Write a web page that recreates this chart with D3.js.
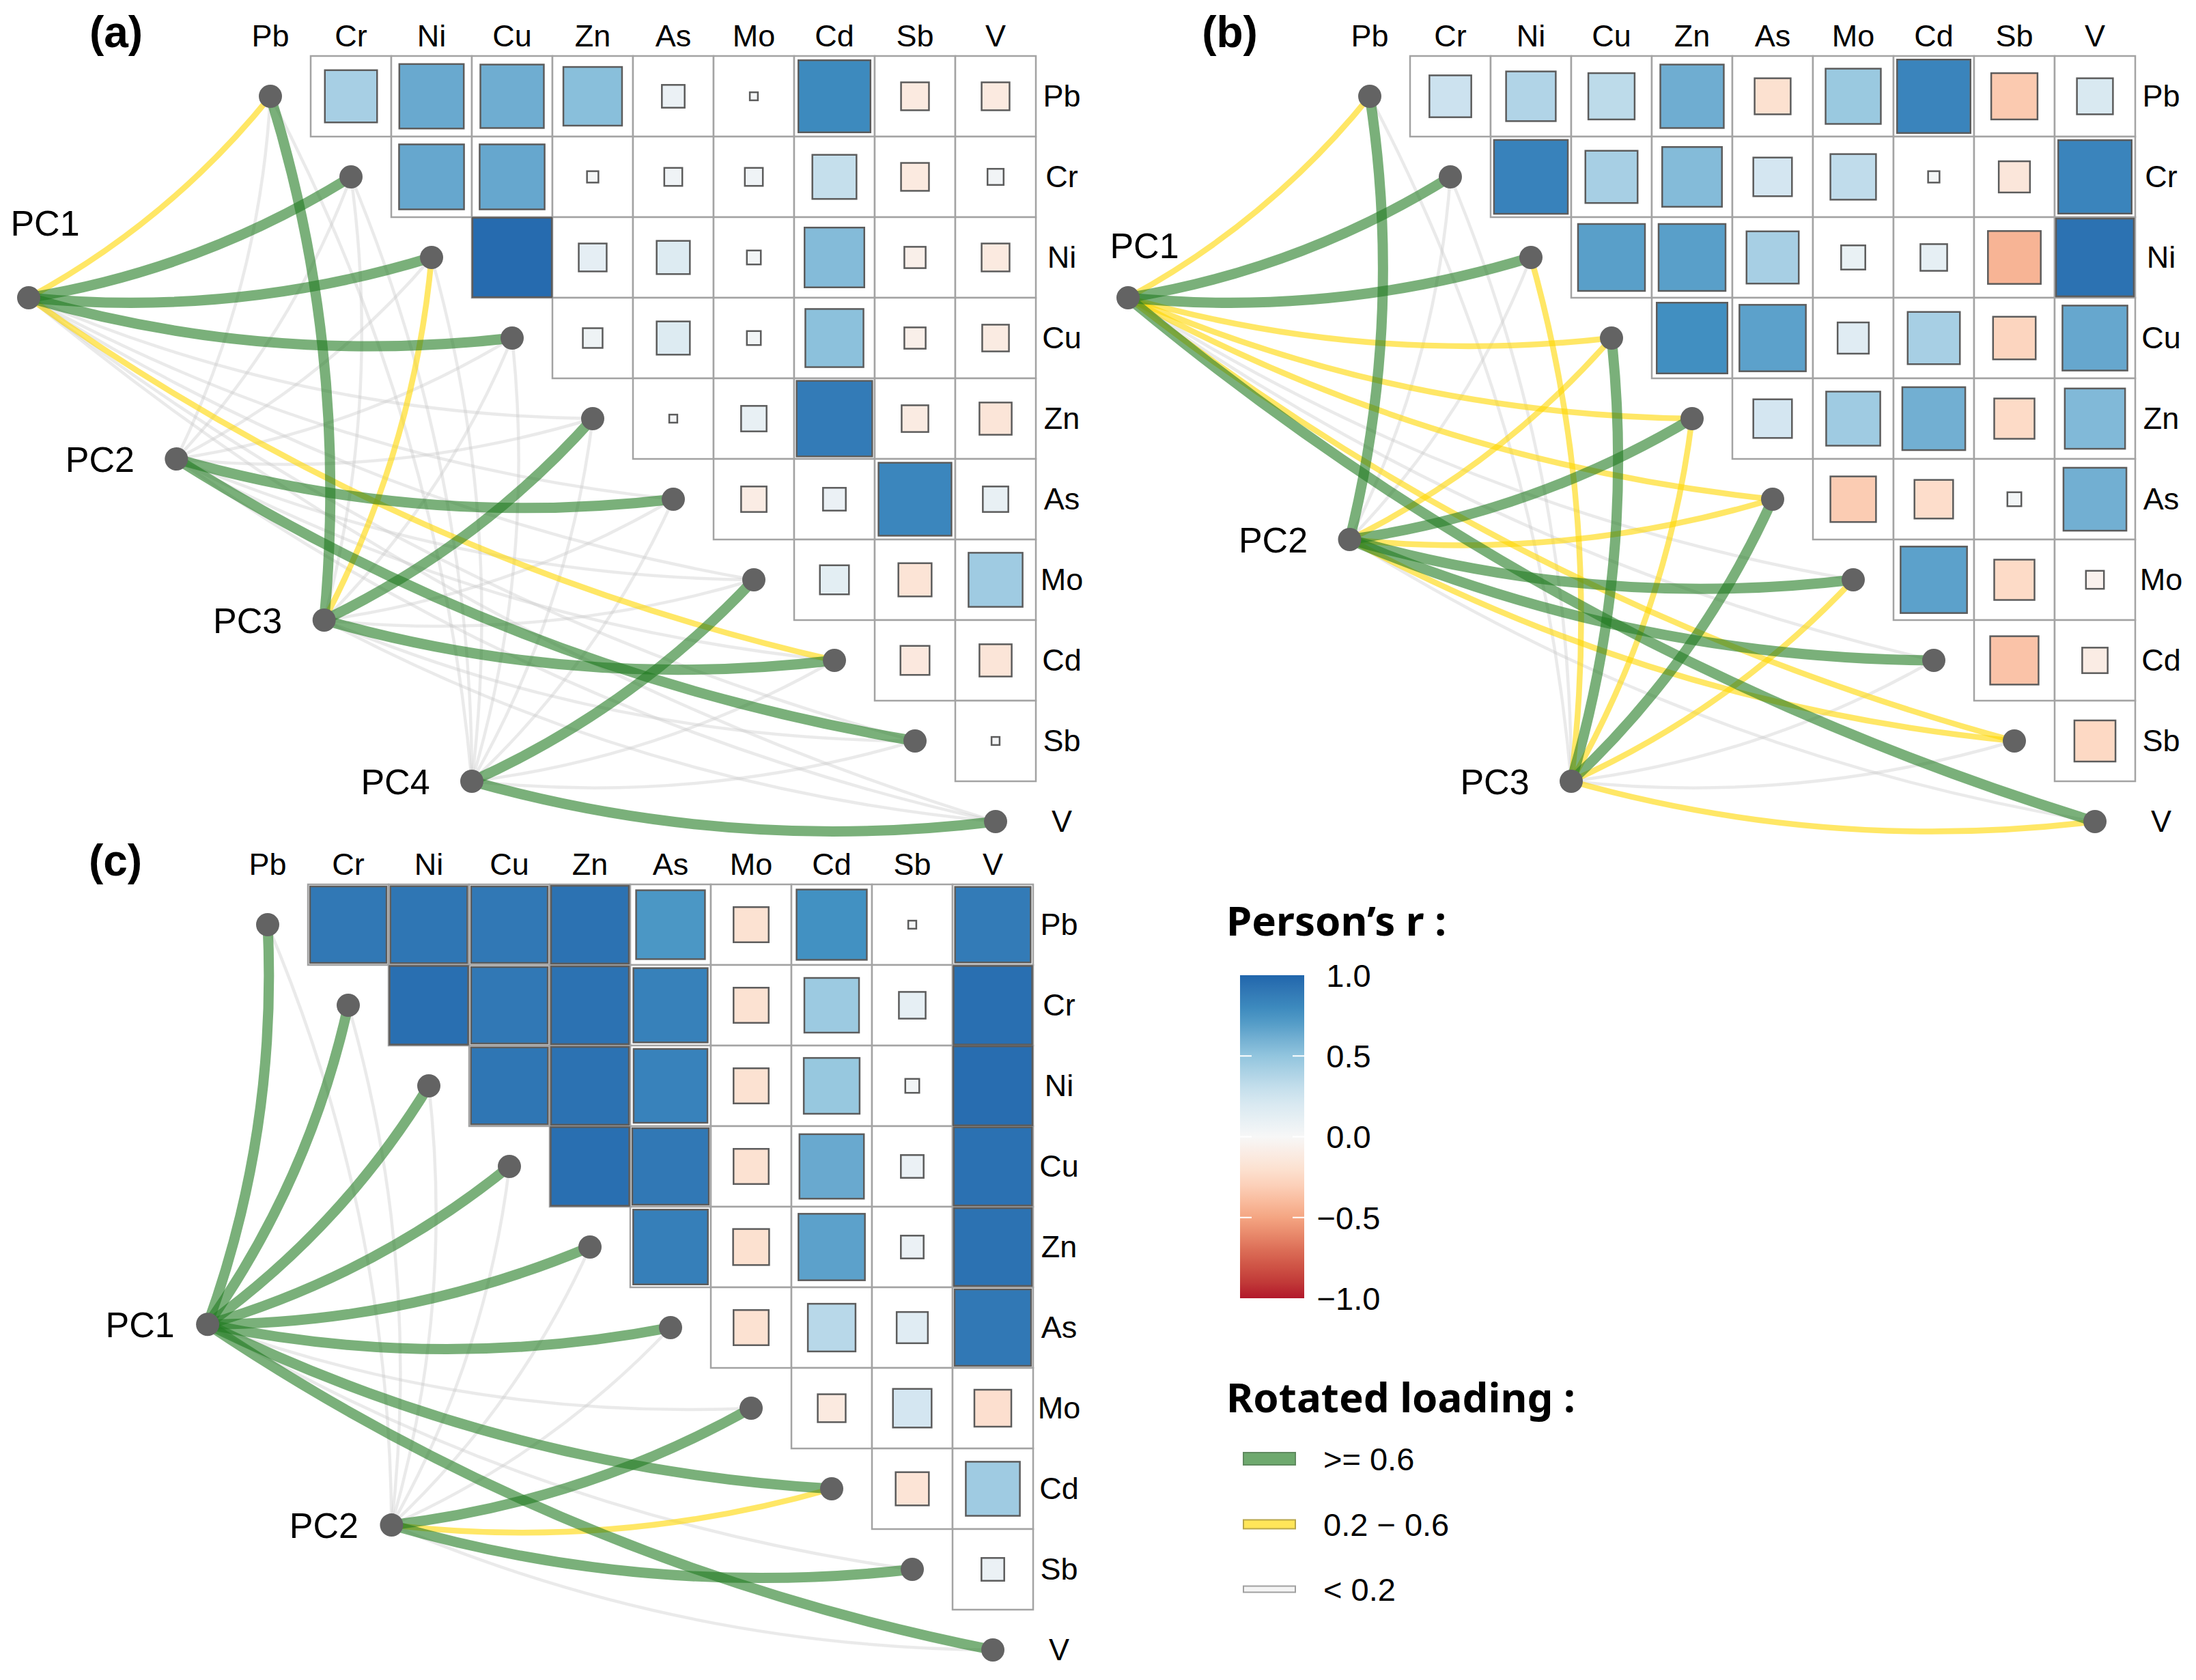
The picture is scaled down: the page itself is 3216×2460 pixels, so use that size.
<!DOCTYPE html>
<html>
<head>
<meta charset="utf-8">
<script src="https://cdn.jsdelivr.net/npm/d3@7"></script>
<style>
  body { margin: 0; background: #fff; }
  text { font-family: "Liberation Sans", Arial, sans-serif; }
</style>
</head>
<body>
<svg id="chart" width="3216" height="2460"></svg>
<script>
// ---- data ----
const elements = ["Pb", "Cr", "Ni", "Cu", "Zn", "As", "Mo", "Cd", "Sb", "V"];

// upper triangle: row i holds r(i, j) for j > i
const corrA = [
  [0.42, 0.64, 0.62, 0.53, 0.08, 0.01, 0.80, -0.12, -0.12],
  [0.65, 0.65, 0.02, 0.05, 0.05, 0.30, -0.12, 0.04],
  [0.97, 0.12, 0.17, 0.03, 0.55, -0.07, -0.12],
  [0.06, 0.17, 0.03, 0.52, -0.07, -0.11],
  [0.01, 0.10, 0.88, -0.11, -0.16],
  [-0.10, 0.08, 0.82, 0.10],
  [0.13, -0.17, 0.45],
  [-0.13, -0.16],
  [0.01]
];
const corrB = [
  [0.27, 0.38, 0.33, 0.62, -0.20, 0.47, 0.83, -0.33, 0.20],
  [0.84, 0.42, 0.55, 0.23, 0.32, 0.02, -0.15, 0.83],
  [0.69, 0.69, 0.42, 0.09, 0.11, -0.43, 0.93],
  [0.77, 0.68, 0.15, 0.42, -0.28, 0.65],
  [0.23, 0.45, 0.61, -0.25, 0.56],
  [-0.32, -0.23, 0.03, 0.61],
  [0.68, -0.25, -0.05],
  [-0.36, -0.10],
  [-0.26]
];
const corrC = [
  [0.90, 0.91, 0.90, 0.93, 0.73, -0.19, 0.76, 0.01, 0.88],
  [0.95, 0.90, 0.93, 0.85, -0.19, 0.46, 0.11, 0.95],
  [0.91, 0.93, 0.84, -0.19, 0.48, 0.03, 0.96],
  [0.95, 0.90, -0.19, 0.64, 0.08, 0.94],
  [0.86, -0.20, 0.68, 0.08, 0.93],
  [-0.19, 0.35, 0.15, 0.90],
  [-0.12, 0.23, -0.21],
  [-0.17, 0.45],
  [0.08]
];

// rotated loadings, one row per component, columns follow `elements`
const pcsA = ["PC1", "PC2", "PC3", "PC4"];
const loadA = [
  [0.45, 0.82, 0.85, 0.80, 0.10, 0.05, 0.08, 0.42, 0.12, 0.10],
  [0.10, 0.05, 0.02, 0.10, 0.15, 0.88, 0.10, 0.12, 0.86, 0.05],
  [0.72, 0.10, 0.30, 0.15, 0.82, 0.08, 0.05, 0.78, 0.10, 0.12],
  [0.05, 0.10, 0.08, 0.10, 0.05, 0.10, 0.85, 0.10, 0.12, 0.82]
];
const pcsB = ["PC1", "PC2", "PC3"];
const loadB = [
  [0.40, 0.75, 0.80, 0.50, 0.45, 0.35, 0.15, 0.10, 0.30, 0.78],
  [0.70, 0.10, 0.12, 0.45, 0.65, 0.40, 0.80, 0.75, 0.35, 0.15],
  [0.05, 0.10, 0.30, 0.62, 0.40, 0.70, 0.35, 0.12, 0.18, 0.45]
];
const pcsC = ["PC1", "PC2"];
const loadC = [
  [0.80, 0.85, 0.88, 0.90, 0.90, 0.85, 0.10, 0.70, 0.05, 0.82],
  [0.05, 0.08, 0.10, 0.05, 0.12, 0.10, 0.80, 0.40, 0.75, 0.15]
];

const colorTicks = [1.0, 0.5, 0.0, -0.5, -1.0];
const loadingClasses = [">= 0.6", "0.2 \u2212 0.6", "< 0.2"];

// ---- layout ----
const svg = d3.select("#chart");
const cell = 118;

const rdbu = ["#B2182B", "#D6604D", "#F4A582", "#FDDBC7", "#F7F7F7",
              "#D1E5F0", "#92C5DE", "#4393C3", "#2166AC"];
const fillScale = d3.scaleLinear()
  .domain(d3.range(9).map(i => -1 + i * 0.25))
  .range(rdbu)
  .interpolate(d3.interpolateLab)
  .clamp(true);

const linkStyle = [
  { color: "#217b21", opacity: 0.6, width: 15 },   // >= 0.6
  { color: "#ffd700", opacity: 0.6, width: 8.5 },  // 0.2 - 0.6
  { color: "#c8c8c8", opacity: 0.38, width: 4.5 }  // < 0.2
];
function loadClass(v) {
  return v >= 0.6 ? 0 : (v >= 0.2 ? 1 : 2);
}

const panels = [
  { tag: "(a)", tagX: 170, ox: 396, oy: 141, corr: corrA, pcs: pcsA, load: loadA,
    pcT: [0, 1 / 3, 2 / 3, 1], pc1Label: [24, -110], labelDx: -112 },
  { tag: "(b)", tagX: 1801, ox: 2006, oy: 141, corr: corrB, pcs: pcsB, load: loadB,
    pcT: [0, 0.5, 1], pc1Label: [24, -77], labelDx: -112 },
  { tag: "(c)", tagX: 169, ox: 392, oy: 1354, corr: corrC, pcs: pcsC, load: loadC,
    pcT: [0.41, 0.825], pc1Label: null, labelDx: -99 }
];

panels.forEach(drawPanel);
drawLegend();

function drawPanel(p) {
  const g = svg.append("g");
  const x = d3.scaleBand().domain(elements)
    .range([p.ox - cell / 2, p.ox - cell / 2 + elements.length * cell]);
  const y = d3.scaleBand().domain(elements)
    .range([p.oy - cell / 2, p.oy - cell / 2 + elements.length * cell]);
  const cx = e => x(e) + cell / 2;
  const cy = e => y(e) + cell / 2;
  const top = y.range()[0];

  // cells of the upper triangle
  const cells = [];
  p.corr.forEach((row, i) => row.forEach((r, k) => {
    cells.push({ a: elements[i], b: elements[i + k + 1], r: r });
  }));

  g.append("g").selectAll("rect").data(cells).join("rect")
    .attr("x", d => x(d.b)).attr("y", d => y(d.a))
    .attr("width", cell).attr("height", cell)
    .attr("fill", "#fff").attr("stroke", "#a3a3a3").attr("stroke-width", 2.5);

  g.append("g").selectAll("rect").data(cells).join("rect")
    .each(function (d) { d.s = Math.sqrt(Math.abs(d.r)) * cell; })
    .attr("x", d => cx(d.b) - d.s / 2).attr("y", d => cy(d.a) - d.s / 2)
    .attr("width", d => d.s).attr("height", d => d.s)
    .attr("fill", d => fillScale(d.r))
    .attr("stroke", "#5c5c5c").attr("stroke-width", 2.5);

  // labels
  g.append("g").selectAll("text").data(elements).join("text")
    .attr("x", d => cx(d)).attr("y", top - 14)
    .attr("text-anchor", "middle").attr("font-size", 45).text(d => d);
  g.append("g").selectAll("text").data(elements).join("text")
    .attr("x", cx("V") + 97).attr("y", d => cy(d)).attr("dy", "0.33em")
    .attr("text-anchor", "middle").attr("font-size", 45).text(d => d);
  g.append("text").attr("x", p.tagX).attr("y", top - 13)
    .attr("text-anchor", "middle").attr("font-size", 64).attr("font-weight", "bold")
    .text(p.tag);

  // component nodes along the anchor line
  const ax = p.ox - 3 * cell, ay = p.oy + 2.5 * cell;
  const bx = p.ox + 2.5 * cell, by = p.oy + 8.5 * cell;
  const nodes = p.pcs.map((name, k) => ({
    name: name,
    x: ax + (bx - ax) * p.pcT[k],
    y: ay + (by - ay) * p.pcT[k]
  }));

  const links = [];
  p.load.forEach((row, k) => row.forEach((v, j) => {
    links.push({ from: nodes[k], to: elements[j], v: v, cls: loadClass(v) });
  }));
  links.sort((a, b) => b.cls - a.cls);

  g.append("g").selectAll("path").data(links).join("path")
    .attr("d", d => {
      const x0 = d.from.x, y0 = d.from.y, x1 = cx(d.to), y1 = cy(d.to);
      const dx = x1 - x0, dy = y1 - y0;
      const path = d3.path();
      path.moveTo(x0, y0);
      path.quadraticCurveTo((x0 + x1) / 2 - 0.1 * dy, (y0 + y1) / 2 + 0.1 * dx, x1, y1);
      return path.toString();
    })
    .attr("fill", "none")
    .attr("stroke", d => linkStyle[d.cls].color)
    .attr("stroke-opacity", d => linkStyle[d.cls].opacity)
    .attr("stroke-width", d => linkStyle[d.cls].width)
    .attr("stroke-linecap", "butt");

  g.append("g").selectAll("circle").data(elements).join("circle")
    .attr("cx", d => cx(d)).attr("cy", d => cy(d)).attr("r", 17).attr("fill", "#636363");
  g.append("g").selectAll("circle").data(nodes).join("circle")
    .attr("cx", d => d.x).attr("cy", d => d.y).attr("r", 17).attr("fill", "#636363");

  g.append("g").selectAll("text").data(nodes).join("text")
    .attr("x", (d, k) => k === 0 && p.pc1Label ? d.x + p.pc1Label[0] : d.x + p.labelDx)
    .attr("y", (d, k) => k === 0 && p.pc1Label ? d.y + p.pc1Label[1] : d.y)
    .attr("dy", "0.36em").attr("text-anchor", "middle").attr("font-size", 52)
    .text(d => d.name);
}

function drawLegend() {
  const g = svg.append("g");
  const titleFont = "'Noto Sans', 'DejaVu Sans', sans-serif";

  g.append("text").attr("x", 1796).attr("y", 1370)
    .style("font-family", titleFont).attr("font-weight", "bold").attr("font-size", 60)
    .text("Person\u2019s r :");

  const barX = 1816, barW = 94;
  const yb = d3.scaleLinear().domain([-1, 1]).range([1901, 1428]);
  const grad = svg.append("defs").append("linearGradient")
    .attr("id", "rdbu").attr("x1", 0).attr("x2", 0).attr("y1", 1).attr("y2", 0);
  grad.selectAll("stop").data(d3.range(0, 1.0001, 0.05)).join("stop")
    .attr("offset", d => d)
    .attr("stop-color", d => fillScale(-1 + 2 * d));
  g.append("rect").attr("x", barX).attr("y", yb(1))
    .attr("width", barW).attr("height", yb(-1) - yb(1)).attr("fill", "url(#rdbu)");

  const inner = colorTicks.filter(v => Math.abs(v) < 1);
  g.append("g").selectAll("path").data(inner).join("path")
    .attr("d", v => `M${barX},${yb(v)}h17M${barX + barW - 17},${yb(v)}h17`)
    .attr("stroke", "#fff").attr("stroke-width", 2);
  g.append("g").selectAll("text").data(colorTicks).join("text")
    .attr("x", 1975).attr("y", v => yb(v)).attr("dy", "0.36em")
    .attr("text-anchor", "middle").attr("font-size", 47)
    .text(d3.format(".1f"));

  g.append("text").attr("x", 1796).attr("y", 2068)
    .style("font-family", titleFont).attr("font-weight", "bold").attr("font-size", 60)
    .text("Rotated loading :");

  const keyY = [2136, 2232, 2327];
  const keyH = [18, 13, 9];
  const keyStroke = ["#5f8a5f", "#b8a64a", "#a0a0a0"];
  loadingClasses.forEach((label, k) => {
    const s = linkStyle[k];
    g.append("rect").attr("x", 1821).attr("y", keyY[k] - keyH[k] / 2)
      .attr("width", 76).attr("height", keyH[k])
      .attr("fill", k === 2 ? "#f4f4f4" : s.color)
      .attr("fill-opacity", k === 2 ? 1 : s.opacity + 0.05)
      .attr("stroke", keyStroke[k]).attr("stroke-width", 2);
    g.append("text").attr("x", 1938).attr("y", keyY[k]).attr("dy", "0.36em")
      .attr("font-size", 47).text(label);
  });
}
</script>
</body>
</html>
